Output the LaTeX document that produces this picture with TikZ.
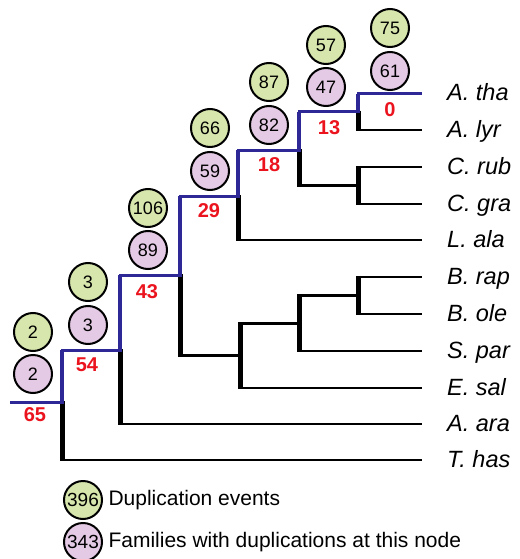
\documentclass[tikz,border=0pt]{standalone}
\usepackage{fontspec}
\setmainfont{Liberation Sans}
\usetikzlibrary{positioning}
\definecolor{treeblue}{RGB}{45,40,150}
\definecolor{duplgreen}{RGB}{214,230,172}
\definecolor{fampink}{RGB}{228,202,228}
\definecolor{cntred}{RGB}{235,20,30}

\begin{document}
\begin{tikzpicture}
      [x=1pt, y=-1pt,
       hbar/.style={draw=black, line width=2.5pt},
       vbar/.style={draw=black, line width=5pt,
           shorten <=-1.25pt, shorten >=-1.25pt},
       bluepath/.style={draw=treeblue, line width=3pt, line join=miter},
       bluev/.style={draw=treeblue, line width=4.5pt},
       leaf/.style={
           anchor=west,
           inner xsep=25pt, inner ysep=0pt,
           text height=14pt, text depth=0pt,
           font=\fontsize{23.5}{27}\selectfont\itshape
         },
       dupl/.style={
           circle, draw=black, line width=2pt,
           fill=duplgreen,
           minimum size=38pt, inner sep=0pt,
           font=\fontsize{18}{20}\selectfont
         },
       fam/.style={dupl, fill=fampink},
       cnt/.style={
           text=cntred,
           font=\fontsize{20}{22}\selectfont\bfseries
         },
       legtext/.style={
           anchor=west,
           font=\fontsize{21}{24}\selectfont
         },
       ]
    \useasboundingbox (0,0) rectangle (519,559);

    % species
    \node [leaf] (tha) at (422,94)  {A. tha};
    \node [leaf] (lyr) at (422,130) {A. lyr};
    \node [leaf] (rub) at (422,167) {C. rub};
    \node [leaf] (gra) at (422,204) {C. gra};
    \node [leaf] (ala) at (422,240) {L. ala};
    \node [leaf] (rap) at (422,277) {B. rap};
    \node [leaf] (ole) at (422,314) {B. ole};
    \node [leaf] (par) at (422,351) {S. par};
    \node [leaf] (sal) at (422,388) {E. sal};
    \node [leaf] (ara) at (422,424) {A. ara};
    \node [leaf] (has) at (422,460) {T. has};

    % inner nodes
    \coordinate (base) at (10,402);
    \coordinate (n65) at (62,402);
    \coordinate (n54) at (120,350);
    \coordinate (n43) at (180,275);
    \coordinate (n29) at (238,196);
    \coordinate (n18) at (299,150);
    \coordinate (n13) at (358,112);
    \coordinate (crb) at (358,185.5);
    \coordinate (esl) at (240,355.5);
    \coordinate (spr) at (299,323.5);
    \coordinate (bra) at (358,295.5);

    % black branches
    \draw [hbar] (n65 |- has.west) -- (has.west);
    \draw [hbar] (n54 |- ara.west) -- (ara.west);
    \draw [hbar] (n43 |- esl) -- (esl);
    \draw [hbar] (n29 |- ala.west) -- (ala.west);
    \draw [hbar] (n18 |- crb) -- (crb);
    \draw [hbar] (n13 |- lyr.west) -- (lyr.west);
    \draw [hbar] (crb |- rub.west) -- (rub.west);
    \draw [hbar] (crb |- gra.west) -- (gra.west);
    \draw [hbar] (esl |- spr) -- (spr);
    \draw [hbar] (esl |- sal.west) -- (sal.west);
    \draw [hbar] (spr |- bra) -- (bra);
    \draw [hbar] (spr |- par.west) -- (par.west);
    \draw [hbar] (bra |- rap.west) -- (rap.west);
    \draw [hbar] (bra |- ole.west) -- (ole.west);

    \draw [vbar] (n65) -- (n65 |- has.west);
    \draw [vbar] (n54) -- (n54 |- ara.west);
    \draw [vbar] (n43) -- (n43 |- esl);
    \draw [vbar] (n29) -- (n29 |- ala.west);
    \draw [vbar] (n18) -- (n18 |- crb);
    \draw [vbar] (n13) -- (n13 |- lyr.west);
    \draw [vbar] (crb |- rub.west) -- (crb |- gra.west);
    \draw [vbar] (esl |- spr) -- (esl |- sal.west);
    \draw [vbar] (spr |- bra) -- (spr |- par.west);
    \draw [vbar] (bra |- rap.west) -- (bra |- ole.west);

    % lineage to A. tha
    \draw [bluepath] (base) -- (n65) |- (n54) |- (n43) |- (n29)
        |- (n18) |- (n13) |- (tha.west);
    \foreach \a/\b in {n65/n54, n54/n43, n43/n29, n29/n18, n18/n13, n13/tha.west}
      \draw [bluev] (\a) -- (\a |- \b);

    % counts on branches
    \node [cnt] (c65) at (35,415)  {65};
    \node [cnt] (c54) at (87,365)  {54};
    \node [cnt] (c43) at (147,292) {43};
    \node [cnt] (c29) at (209,211) {29};
    \node [cnt] (c18) at (269,165) {18};
    \node [cnt] (c13) at (329,128) {13};
    \node [cnt] (c0)  at (390,110) {0};

    % duplications
    \node [dupl] (g65) at (33,332)  {2};
    \node [fam]  (p65) at (33,374)  {2};
    \node [dupl] (g54) at (88,282)  {3};
    \node [fam]  (p54) at (88,325)  {3};
    \node [dupl] (g43) at (148,208) {106};
    \node [fam]  (p43) at (148,250) {89};
    \node [dupl] (g29) at (210,128) {66};
    \node [fam]  (p29) at (210,171) {59};
    \node [dupl] (g18) at (269,82)  {87};
    \node [fam]  (p18) at (269,125) {82};
    \node [dupl] (g13) at (326,45)  {57};
    \node [fam]  (p13) at (326,87)  {47};
    \node [dupl] (g0)  at (390,28)  {75};
    \node [fam]  (p0)  at (390,71)  {61};

    % legend
    \node [dupl, font=\fontsize{19}{20}\selectfont] (lgd) at (83,500) {396};
    \node [fam, font=\fontsize{19}{20}\selectfont]  (lgf) at (83,542) {343};
    \node [legtext, right=2pt of lgd] (lgdt) {Duplication events};
    \node [legtext, right=2pt of lgf] (lgft) {Families with duplications at this node};

  \end{tikzpicture}
\end{document}
